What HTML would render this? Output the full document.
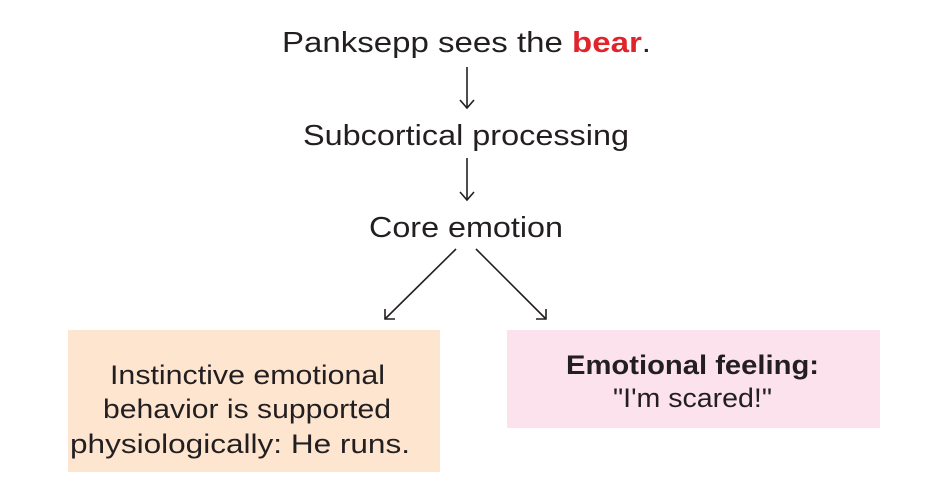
<!DOCTYPE html>
<html><head><style>
html,body{margin:0;padding:0;background:#fff;}
svg{display:block;}
text{font-family:"Liberation Sans",Arial,sans-serif;fill:#231f20;}
</style></head><body>
<svg width="936" height="487" viewBox="0 0 936 487" xmlns="http://www.w3.org/2000/svg">
<rect x="68" y="330" width="372" height="142" fill="#fde5d0"/>
<rect x="507" y="330" width="373" height="98" fill="#fbe2ec"/>
<text x="282" y="52" font-size="29" textLength="369" lengthAdjust="spacingAndGlyphs">Panksepp sees the <tspan font-weight="bold" fill="#e0242b" style="fill:#e0242b">bear</tspan>.</text>
<text x="303" y="145" font-size="29" textLength="326" lengthAdjust="spacingAndGlyphs">Subcortical processing</text>
<text x="369" y="237" font-size="29" textLength="194" lengthAdjust="spacingAndGlyphs">Core emotion</text>
<g stroke="#231f20" stroke-width="1.6" fill="none">
<line x1="467" y1="67" x2="467" y2="108"/>
<polyline points="460,100 467,108 474,100"/>
<line x1="467" y1="158" x2="467" y2="200"/>
<polyline points="460,192 467,200 474,192"/>
<line x1="456" y1="249" x2="385" y2="319"/>
<polyline points="385,309 385,319 395,319"/>
<line x1="476" y1="249" x2="546" y2="319"/>
<polyline points="546,309 546,319 536,319"/>
</g>
<text x="110" y="384" font-size="27" textLength="275" lengthAdjust="spacingAndGlyphs">Instinctive emotional</text>
<text x="103" y="418" font-size="27" textLength="288" lengthAdjust="spacingAndGlyphs">behavior is supported</text>
<text x="70" y="453" font-size="27" textLength="340" lengthAdjust="spacingAndGlyphs">physiologically: He runs.</text>
<text x="566" y="374" font-size="27" font-weight="bold" textLength="253" lengthAdjust="spacingAndGlyphs">Emotional feeling:</text>
<text x="613" y="407" font-size="27" textLength="159" lengthAdjust="spacingAndGlyphs">"I'm scared!"</text>
</svg>
</body></html>
